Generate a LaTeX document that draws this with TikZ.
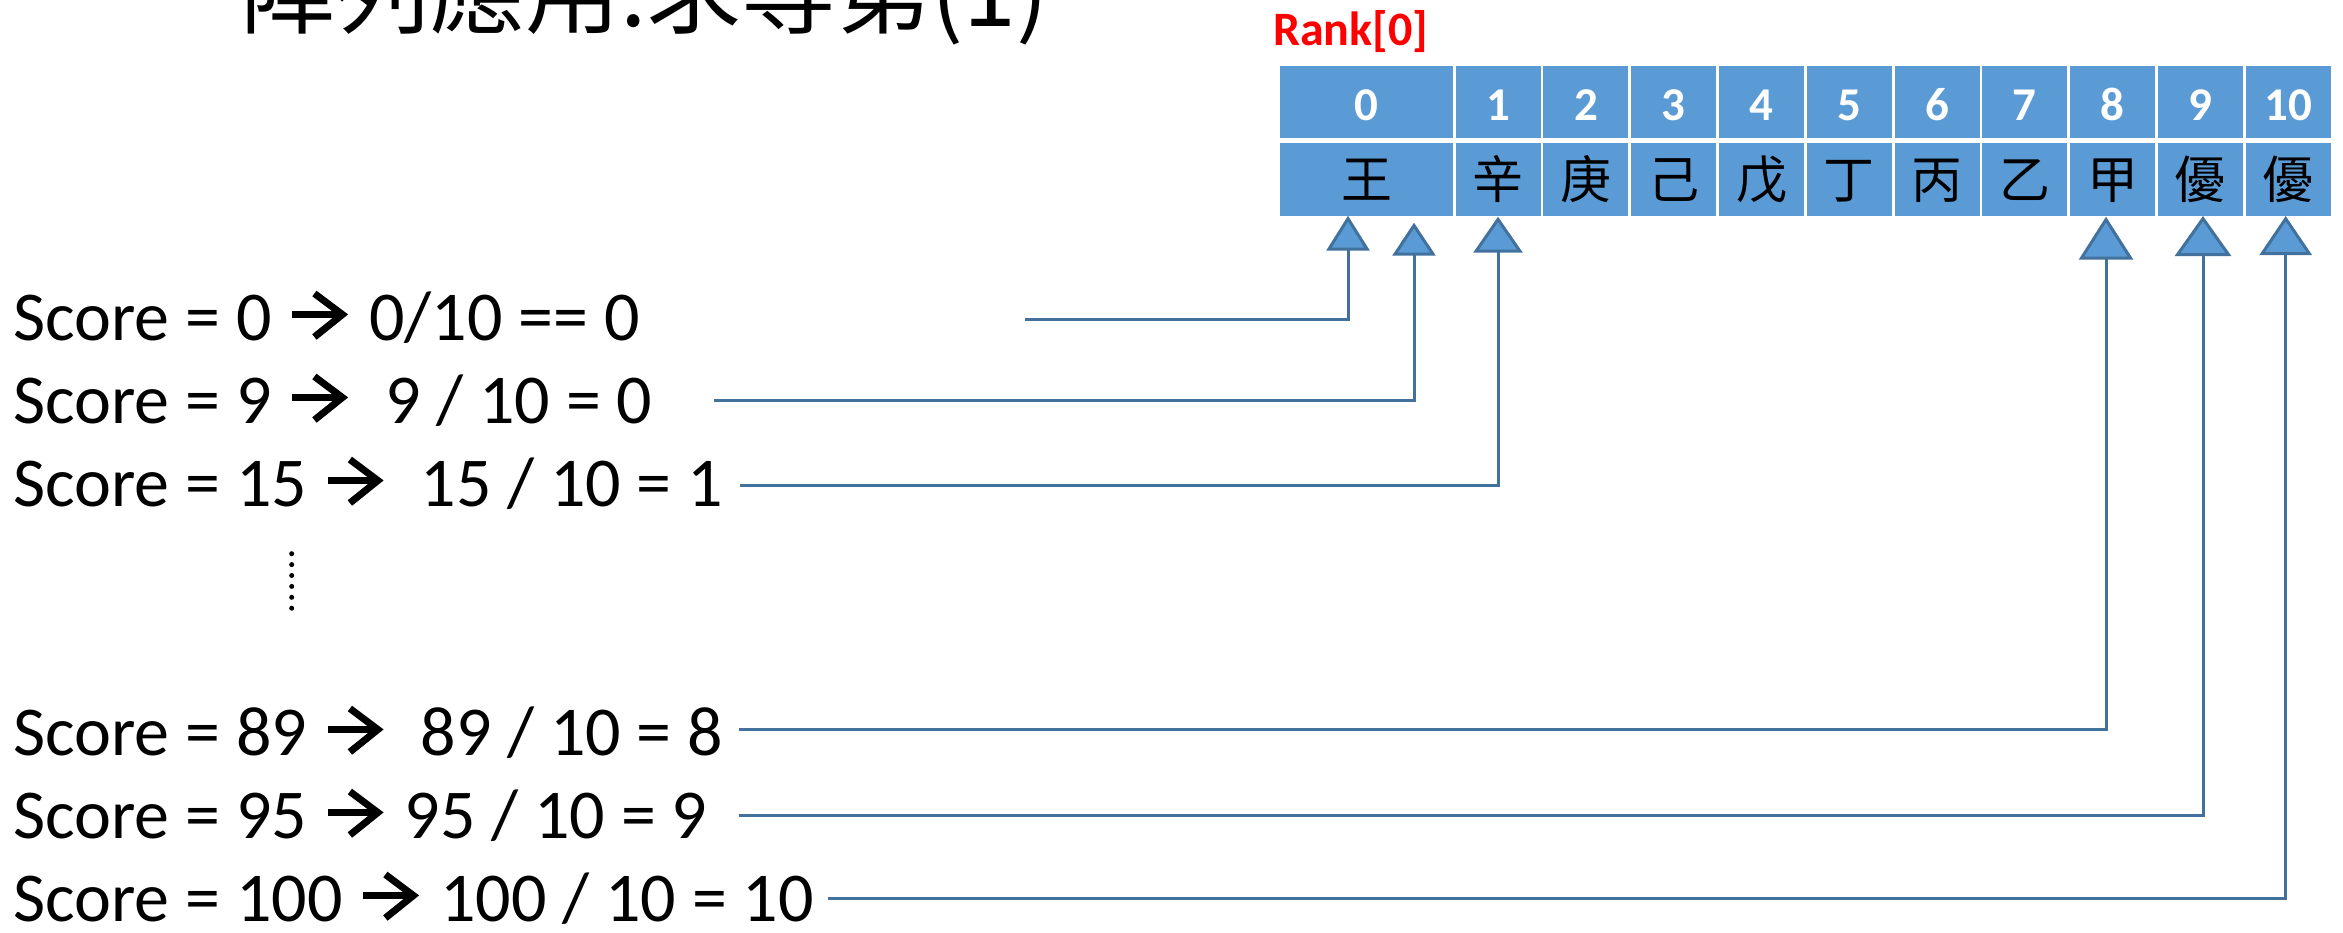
\documentclass[tikz,border=0pt]{standalone}
\usepackage{fontspec}
\setmainfont{Carlito}
\newfontfamily\cjk{Noto Sans CJK TC}
\usetikzlibrary{arrows.meta}
\definecolor{cellblue}{HTML}{5B9BD5}
\definecolor{linecol}{HTML}{41719C}
\definecolor{rankred}{HTML}{FF0000}
\newcommand\rarr{\hspace*{5pt}\tikz[baseline=0pt,x=1pt,y=1pt]{\path[use as bounding box] (0,0) rectangle (56,49);\draw[line width=7pt,line cap=butt] (0,25.5)--(47,25.5);\draw[line width=7pt,line cap=butt,line join=miter] (22,46.5)--(50,25.5)--(22,3);}\hspace*{5pt}}
\begin{document}
\begin{tikzpicture}[x=1pt,y=-1pt,
  scoretext/.style={anchor=base west,inner sep=0pt,font=\fontsize{70}{74}\selectfont},
  topcell/.style={fill=cellblue,minimum height=72.3pt,inner sep=0pt,text=white,font=\bfseries\fontsize{47}{50}\selectfont,text height=38pt,text depth=0pt},
  botcell/.style={fill=cellblue,minimum height=72.7pt,inner sep=0pt,font=\cjk\fontsize{51}{54}\selectfont,text height=42.5pt,text depth=3.5pt},
  conn/.style={draw=linecol,line width=3pt}
]
\useasboundingbox (0,0) rectangle (2343,932);
\clip (0,0) rectangle (2343,932);
% title
\node[anchor=base west,inner sep=0pt,font=\cjk\fontsize{95}{100}\selectfont] (title) at (240,26) {陣列應用:求等第(1)};
% rank label
\node[anchor=base west,inner sep=0pt,text=rankred,font=\bfseries\fontsize{48}{52}\selectfont] (rank) at (1273,45) {Rank[0]};
% cells
\node[topcell,minimum width=173pt] (n0) at (1366.5,101.85) {0};
\node[botcell,minimum width=173pt] (v0) at (1366.5,179.35) {王};
\foreach \i/\c in {1/辛,2/庚,3/己,4/戊,5/丁,6/丙,7/乙,8/甲,9/優,10/優}{
  \node[topcell,minimum width=85pt] (n\i) at ({1498.2+(\i-1)*87.76},101.85) {\i};
  \node[botcell,minimum width=85pt] (v\i) at ({1498.2+(\i-1)*87.76},179.35) {\c};
}
% score lines
\node[scoretext] (s0) at (13,340) {Score = 0 \rarr\ 0/10 == 0};
\node[scoretext] (s9) at (13,423) {Score = 9 \rarr\ \ 9 / 10 = 0};
\node[scoretext] (s15) at (13,506) {Score = 15 \rarr\ \ 15 / 10 = 1};
\node[scoretext] (s89) at (13,755) {Score = 89 \rarr\ \ 89 / 10 = 8};
\node[scoretext] (s95) at (13,838) {Score = 95 \rarr\ 95 / 10 = 9};
\node[scoretext] (s100) at (13,921) {Score = 100 \rarr\ 100 / 10 = 10};
% vertical ellipsis
\draw[line width=5pt,line cap=round,dash pattern=on 0pt off 10.9pt] (291.7,553.7) -- (291.7,610);
% connector coordinates
\coordinate (a0) at (1025,319.7);   \coordinate (b0) at (1348,215.7);
\coordinate (a9) at (714,400.7);    \coordinate (b9) at (1414,222.7);
\coordinate (a15) at (740,485.6);   \coordinate (b15) at (1498,216.7);
\coordinate (a89) at (739,729.3);   \coordinate (b89) at (2106,216.7);
\coordinate (a95) at (739,815);     \coordinate (b95) at (2203,216);
\coordinate (a100) at (828,898);    \coordinate (b100) at (2285.7,216);
\draw[conn,-{Triangle[width=43pt,length=35pt,fill=cellblue]}] (a0) -| (b0);
\draw[conn,-{Triangle[width=43pt,length=33pt,fill=cellblue]}] (a9) -| (b9);
\draw[conn,-{Triangle[width=49pt,length=36pt,fill=cellblue]}] (a15) -| (b15);
\draw[conn,-{Triangle[width=54pt,length=43pt,fill=cellblue]}] (a89) -| (b89);
\draw[conn,-{Triangle[width=56pt,length=40pt,fill=cellblue]}] (a95) -| (b95);
\draw[conn,-{Triangle[width=52pt,length=39pt,fill=cellblue]}] (a100) -| (b100);
\end{tikzpicture}
\end{document}
